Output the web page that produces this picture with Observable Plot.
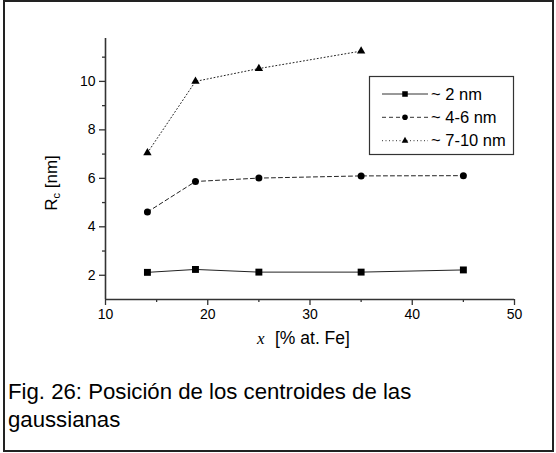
<!DOCTYPE html>
<html>
<head>
<meta charset="utf-8">
<script src="https://cdn.jsdelivr.net/npm/d3@7"></script>
<script src="https://cdn.jsdelivr.net/npm/@observablehq/plot@0.6"></script>
<style>
  html, body { margin: 0; padding: 0; background: #fff; }
  #wrap { position: relative; width: 556px; height: 453px; overflow: hidden; font-family: "Liberation Sans", Arial, sans-serif; }
  #wrap svg.plot { position: absolute; left: 0; top: 0; }
  #frame { position: absolute; left: 3px; top: 0; width: 551px; height: 452px; box-sizing: border-box; border: 2px solid #222; pointer-events: none; }
  #overlay { position: absolute; left: 0; top: 0; }
  .cap { position: absolute; left: 8px; font-size: 22.2px; line-height: 27.5px; color: #000; white-space: nowrap; }
</style>
</head>
<body>
<div id="wrap"></div>
<script>
// ---- data ----
const composition = [14.1, 18.8, 25, 35, 45];            // x [% at. Fe]
const series2nm   = [2.12, 2.24, 2.13, 2.13, 2.22];       // ~ 2 nm
const series46nm  = [4.61, 5.87, 6.01, 6.10, 6.11];       // ~ 4-6 nm
const series710nm = [7.05, 10.0, 10.53, 11.25];           // ~ 7-10 nm
const seriesNames = ["~ 2 nm", "~ 4-6 nm", "~ 7-10 nm"];
const xMajorTicks = [10, 20, 30, 40, 50];
const xMinorTicks = [15, 25, 35, 45];
const yMajorTicks = [2, 4, 6, 8, 10];
const yMinorTicks = [3, 5, 7, 9, 11];
const captionLines = ["Fig. 26: Posición de los centroides de las", "gaussianas"];

const seriesValues = [series2nm, series46nm, series710nm];
const rows = [];
seriesValues.forEach((vals, si) => vals.forEach((v, i) => rows.push({series: seriesNames[si], x: composition[i], y: v})));

const styles = {
  "~ 2 nm":    {dash: null,  symbol: "square",   r: 3.9},
  "~ 4-6 nm":  {dash: "4,3", symbol: "circle",   r: 3.5},
  "~ 7-10 nm": {dash: "1,2.5", symbol: "triangle", r: 3.1}
};

const lineMarks = seriesNames.map(name => Plot.line(rows.filter(d => d.series === name), {
  x: "x", y: "y", stroke: "#222", strokeWidth: 1, strokeDasharray: styles[name].dash
}));
const dotMarks = seriesNames.map(name => Plot.dot(rows.filter(d => d.series === name), {
  x: "x", y: "y", symbol: () => styles[name].symbol, fill: "#000", stroke: "none", r: styles[name].r
}));

const chart = Plot.plot({
  width: 556, height: 453,
  marginLeft: 105, marginRight: 42, marginTop: 38, marginBottom: 154,
  style: {fontFamily: "'Liberation Sans', Arial, sans-serif", fontSize: "14px", color: "#000", background: "#fff"},
  x: {domain: [10, 50]},
  y: {domain: [1, 11.77]},
  symbol: {type: "identity"},
  marks: [
    Plot.axisX({ticks: xMajorTicks, tickSize: 6, tickPadding: 4, label: null, stroke: "#333", strokeWidth: 1.3}),
    Plot.axisX({ticks: xMinorTicks, tickSize: 3, tickFormat: () => "", label: null, stroke: "#333", strokeWidth: 1.3}),
    Plot.axisY({ticks: yMajorTicks, tickSize: 6, tickPadding: 4, label: null, stroke: "#333", strokeWidth: 1.3}),
    Plot.axisY({ticks: yMinorTicks, tickSize: 3, tickFormat: () => "", label: null, stroke: "#333", strokeWidth: 1.3}),
    Plot.ruleX([10], {stroke: "#333", strokeWidth: 1.6}),
    Plot.ruleY([1], {stroke: "#333", strokeWidth: 1.6}),
    ...lineMarks,
    ...dotMarks
  ]
});
chart.classList.add("plot");
chart.querySelectorAll("g[aria-label$='tick label']").forEach(g => { g.style.fontSize = "14px"; g.setAttribute("font-size", "14"); });
const wrap = document.getElementById("wrap");
wrap.appendChild(chart);

// overlay: axis labels + legend
const ov = d3.select(wrap).append("svg").attr("id", "overlay")
  .attr("width", 556).attr("height", 453)
  .style("font-family", "'Liberation Sans', Arial, sans-serif");

// x label
ov.append("text").attr("x", 257).attr("y", 343.5).attr("font-size", 17)
  .attr("font-family", "'Liberation Serif', 'Times New Roman', serif").attr("font-style", "italic").attr("fill", "#000").text("x");
ov.append("text").attr("x", 275).attr("y", 343.5).attr("font-size", 17.5).attr("fill", "#000").text("[% at. Fe]");

// y label
const yl = ov.append("text").attr("transform", "translate(56.5,183) rotate(-90)").attr("text-anchor", "middle")
  .attr("font-size", 17).attr("fill", "#000");
yl.append("tspan").text("R");
yl.append("tspan").attr("font-size", 11).attr("dy", 3).text("c");
yl.append("tspan").attr("dy", -3).text(" [nm]");

// legend
const lg = ov.append("g");
lg.append("rect").attr("x", 369.5).attr("y", 76.5).attr("width", 144).attr("height", 78)
  .attr("fill", "#fff").attr("stroke", "#333").attr("stroke-width", 1.2);
const legendY = [94, 117.3, 140.7];
const sym = {square: d3.symbolSquare, circle: d3.symbolCircle, triangle: d3.symbolTriangle};
seriesNames.forEach((name, i) => {
  const s = styles[name];
  const y = legendY[i];
  lg.append("line").attr("x1", 382).attr("x2", 428).attr("y1", y).attr("y2", y)
    .attr("stroke", "#333").attr("stroke-width", 1).attr("stroke-dasharray", s.dash);
  const size = Math.PI * (s.r * 0.8) ** 2;
  lg.append("path").attr("d", d3.symbol(sym[s.symbol], size)()).attr("transform", `translate(405,${y})`).attr("fill", "#000");
  lg.append("text").attr("x", 431).attr("y", y + 5.5).attr("font-size", 16.5).attr("fill", "#000").text(name);
});

// caption
captionLines.forEach((t, i) => {
  const d = document.createElement("div");
  d.className = "cap";
  d.textContent = t;
  d.style.top = (378 + i * 27.5) + "px";
  wrap.appendChild(d);
});

const fr = document.createElement("div");
fr.id = "frame";
wrap.appendChild(fr);
</script>
</body>
</html>
